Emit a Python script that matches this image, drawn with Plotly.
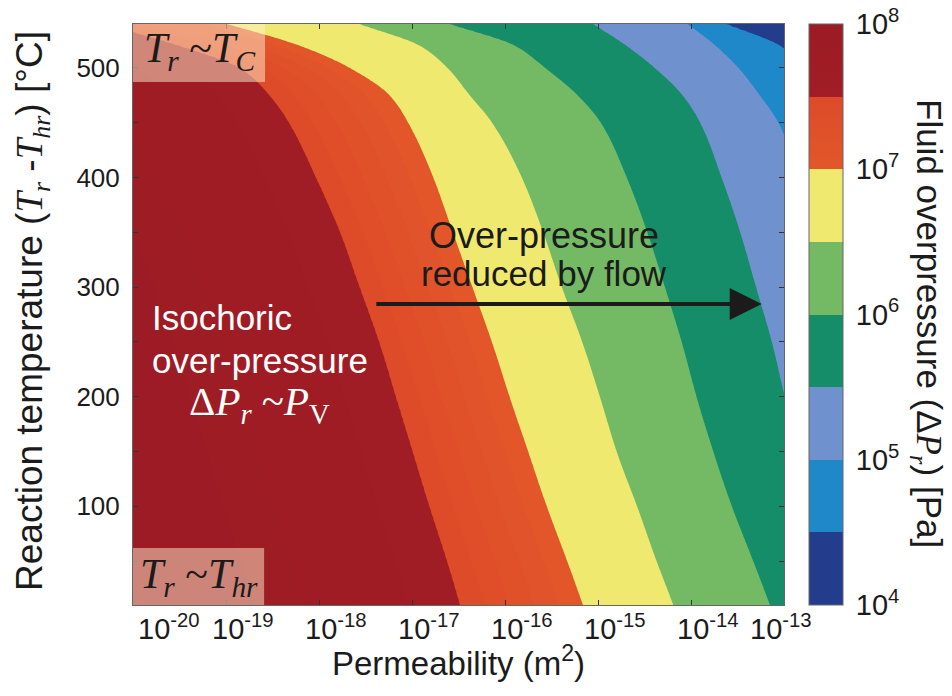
import numpy as np
import plotly.graph_objects as go

# Reaction temperature rows (°C) at which the contour positions are tabulated
temps = [540, 520, 500, 475, 450, 400, 350, 300, 250, 200, 150, 100, 50, 10]

# Overpressure contour levels, log10(ΔP / Pa)
levels = [7.5, 7.0, 6.5, 6.0, 5.5, 5.0, 4.5]

# log10 permeability (m^2) of each contour at every temperature row
k_75 = [-20.30, -19.49, -18.85, -18.53, -18.32, -18.03, -17.77, -17.56, -17.35, -17.17, -16.99, -16.81, -16.62, -16.48]
k_70 = [-18.99, -18.20, -17.67, -17.24, -17.04, -16.77, -16.56, -16.35, -16.14, -15.95, -15.75, -15.55, -15.33, -15.16]
k_65 = [-17.56, -16.91, -16.62, -16.38, -16.14, -15.82, -15.59, -15.39, -15.17, -14.98, -14.80, -14.58, -14.37, -14.19]
k_60 = [-16.60, -15.89, -15.57, -15.22, -14.97, -14.69, -14.47, -14.28, -14.10, -13.94, -13.76, -13.56, -13.33, -13.15]
k_55 = [-15.05, -14.69, -14.39, -14.09, -13.90, -13.67, -13.47, -13.30, -13.13, -12.99, -12.83, -12.65, -12.45, -12.27]
k_50 = [-14.03, -13.73, -13.49, -13.26, -13.06, -12.83, -12.67, -12.51, -12.34, -12.18, -12.01, -11.83, -11.62, -11.45]
k_45 = [-13.63, -13.04, -12.77, -12.51, -12.29, -12.02, -11.81, -11.62, -11.43, -11.27, -11.09, -10.89, -10.68, -10.52]

x_ticks = [-20, -19, -18, -17, -16, -15, -14, -13]
x_ticktext = ["10<sup>%d</sup>" % v for v in x_ticks]
y_ticks = [100, 200, 300, 400, 500]
cb_ticks = [4, 5, 6, 7, 8]
cb_ticktext = ["10<sup>%d</sup>" % v for v in cb_ticks]


def pchip(xk, yk, xq):
    """Monotone cubic Hermite curve through (xk, yk), xk ascending."""
    xk, yk = np.asarray(xk, float), np.asarray(yk, float)
    h = np.diff(xk)
    d = np.diff(yk) / h
    m = np.zeros_like(yk)
    m[0], m[-1] = d[0], d[-1]
    for i in range(1, len(xk) - 1):
        if d[i - 1] * d[i] > 0:
            w1 = 2 * h[i] + h[i - 1]
            w2 = h[i] + 2 * h[i - 1]
            m[i] = (w1 + w2) / (w1 / d[i - 1] + w2 / d[i])
    idx = np.clip(np.searchsorted(xk, xq) - 1, 0, len(xk) - 2)
    t = (xq - xk[idx]) / h[idx]
    h00 = 2 * t**3 - 3 * t**2 + 1
    h10 = t**3 - 2 * t**2 + t
    h01 = -2 * t**3 + 3 * t**2
    h11 = t**3 - t**2
    return (h00 * yk[idx] + h10 * h[idx] * m[idx]
            + h01 * yk[idx + 1] + h11 * h[idx] * m[idx + 1])


# ---- build the log10(ΔP) field on a (log k, T) grid ----------------------
logk = np.linspace(-20, -13, 281)
T_grid = np.linspace(10, 540, 213)
T_asc = np.array(temps, float)[::-1]
contour_k = np.array([k_75, k_70, k_65, k_60, k_55, k_50, k_45])[:, ::-1]
curves = np.array([pchip(T_asc, row, T_grid) for row in contour_k])

Z = np.empty((len(T_grid), len(logk)))
for j in range(len(T_grid)):
    b = curves[:, j]
    xp = np.concatenate([[b[0] - 2.5], b, [b[-1] + 1.0]])
    fp = np.concatenate([[7.95], levels, [4.02]])
    Z[j] = np.interp(logk, xp, fp)
Z = np.round(Z, 4)

SANS = "Liberation Sans"
SERIF = "Liberation Serif"
INK = "#1b1b1b"

# one colour band per half decade of overpressure (10^4 ... 10^8 Pa)
bands = [
    ("#243C8C", "#243C8C"),
    ("#1E88C9", "#1E88C9"),
    ("#6F92CE", "#6F92CE"),
    ("#168D69", "#168D69"),
    ("#74BA64", "#74BA64"),
    ("#F0E96F", "#F0E96F"),
    ("#E2572A", "#DD4A29"),
    ("#A21D25", "#9C1B24"),
]


def stepped_scale(lo, hi):
    """Band colours laid out over the value range [lo, hi]."""
    norm = lambda v: (v - lo) / (hi - lo)
    scale = [[0.0, bands[0][0]]]
    for i, (c0, c1) in enumerate(bands):
        scale.append([norm(4 + 0.5 * i), c0])
        scale.append([norm(4.5 + 0.5 * i), c1])
    scale.append([1.0, bands[-1][1]])
    return scale


# filled contours every 0.1 decade; plotly spreads a contour colour scale
# over [start - size/2, end + size/2]
c_start, c_end, c_size = 4.0, 8.0, 0.1

fig = go.Figure()
fig.add_trace(go.Contour(
    x=logk, y=T_grid, z=Z,
    autocontour=False,
    contours=dict(start=c_start, end=c_end, size=c_size,
                  coloring="fill", showlines=False),
    line=dict(width=0),
    colorscale=stepped_scale(c_start - c_size / 2, c_end + c_size / 2),
    showscale=False,
    hoverinfo="skip",
))

# colour bar spanning exactly 10^4 ... 10^8 Pa
fig.add_trace(go.Scatter(
    x=[None], y=[None], mode="markers", showlegend=False, hoverinfo="skip",
    marker=dict(
        color=[4], cmin=4, cmax=8, colorscale=stepped_scale(4, 8),
        showscale=True,
        colorbar=dict(
            x=(809 - 133) / 651, xanchor="left", xpad=0,
            y=0.5, yanchor="middle", ypad=0, len=1, lenmode="fraction",
            thickness=34, thicknessmode="pixels",
            outlinewidth=1, outlinecolor="#666666",
            tickmode="array", tickvals=cb_ticks, ticktext=cb_ticktext,
            ticks="outside", ticklen=7, tickcolor="rgba(0,0,0,0)",
            tickfont=dict(family=SANS, size=29, color=INK),
        ),
    ),
))

axis_common = dict(
    showgrid=False, zeroline=False, showline=True, linecolor="#666666",
    linewidth=1, mirror="ticks", ticks="inside", ticklen=5,
    tickcolor="#333333",
)
fig.update_xaxes(range=[-20, -13], tickmode="array", tickvals=x_ticks,
                 showticklabels=False, **axis_common)
fig.update_yaxes(range=[10, 540], tickmode="array", tickvals=y_ticks,
                 ticklabelstandoff=7,
                 tickfont=dict(family=SANS, size=26, color=INK),
                 minor=dict(dtick=50, tick0=0, ticks="inside", ticklen=5,
                            tickcolor="#333333"),
                 **axis_common)

T_ = lambda s: '<span style="font-family:%s"><i>%s</i></span>' % (SERIF, s)
Tsub = lambda s: '<span style="font-family:%s"><sub><i>%s</i></sub></span>' % (SERIF, s)

annotations = []

# permeability tick labels: the "10" sits on the tick, kept inside the frame
px_per_decade = 651 / 7
label_w = 63
for v, txt in zip(x_ticks, x_ticktext):
    tick_px = 133 + (v + 20) * px_per_decade
    centre = min(max(tick_px + 17, 137 + label_w / 2), 812 - label_w / 2)
    annotations.append(dict(
        text=txt, xref="x", yref="paper", x=v, y=(605 - 627) / 581,
        xanchor="center", yanchor="middle", xshift=centre - tick_px,
        showarrow=False, font=dict(family=SANS, size=29, color=INK)))

annotations += [
    dict(text="Permeability (m<sup>2</sup>)", xref="paper", yref="paper",
         x=0.5, y=(605 - 661) / 581, xanchor="center", yanchor="middle",
         showarrow=False, font=dict(family=SANS, size=33, color=INK)),
    dict(text="Reaction temperature (" + T_("T") + Tsub("r") + " -" + T_("T")
         + Tsub("hr") + ") [°C]",
         xref="paper", yref="paper", x=(32 - 133) / 651, y=(605 - 311) / 581,
         xanchor="center", yanchor="middle",
         textangle=-90, showarrow=False,
         font=dict(family=SANS, size=37, color=INK)),
    dict(text="Fluid overpressure (Δ" + T_("P") + Tsub("r") + ") [Pa]",
         xref="paper", yref="paper", x=(927 - 133) / 651, y=(605 - 324) / 581,
         xanchor="center", yanchor="middle",
         textangle=90, showarrow=False,
         font=dict(family=SANS, size=35, color=INK)),
    dict(text="<i>T</i><sub><i>r</i></sub> ~<i>T</i><sub><i>C</i></sub>",
         xref="x", yref="y", x=-19.29, y=515, showarrow=False,
         font=dict(family=SERIF, size=42, color=INK)),
    dict(text="<i>T</i><sub><i>r</i></sub> ~<i>T</i><sub><i>hr</i></sub>",
         xref="x", yref="y", x=-19.29, y=36, showarrow=False,
         font=dict(family=SERIF, size=42, color=INK)),
    dict(text="Isochoric", xref="x", yref="y", x=-19.82, y=272,
         xanchor="left", yanchor="middle", showarrow=False,
         font=dict(family=SANS, size=35, color="white")),
    dict(text="over-pressure", xref="x", yref="y", x=-19.82, y=233,
         xanchor="left", yanchor="middle", showarrow=False,
         font=dict(family=SANS, size=35, color="white")),
    dict(text="Δ<i>P</i><sub><i>r</i></sub> ~<i>P</i><sub>V</sub>",
         xref="x", yref="y", x=-19.42, y=193, xanchor="left",
         yanchor="middle", showarrow=False,
         font=dict(family=SERIF, size=41, color="white")),
    dict(text="Over-pressure", xref="x", yref="y", x=-15.58, y=347,
         xanchor="center", yanchor="middle",
         showarrow=False, font=dict(family=SANS, size=36, color=INK)),
    dict(text="reduced by flow", xref="x", yref="y", x=-15.58, y=312,
         xanchor="center", yanchor="middle",
         showarrow=False, font=dict(family=SANS, size=35, color=INK)),
    dict(text="", xref="x", yref="y", x=-13.24, y=284.6,
         axref="x", ayref="y", ax=-17.40, ay=284.6, showarrow=True,
         arrowhead=2, arrowsize=1.6, arrowwidth=4, arrowcolor=INK),
]

shapes = [
    dict(type="rect", xref="x", yref="y", x0=-20, x1=-18.58, y0=487, y1=540,
         fillcolor="rgba(255,240,205,0.5)", line=dict(width=0), layer="above"),
    dict(type="rect", xref="x", yref="y", x0=-20, x1=-18.59, y0=10, y1=62,
         fillcolor="rgba(255,240,205,0.5)", line=dict(width=0), layer="above"),
]

# short dark marks on both edges of the colour bar at every band boundary
cb_left = (809 - 133) / 651
cb_right = (843 - 133) / 651
mark = 5 / 651
for v in np.arange(4.5, 8.0, 0.5):
    yv = (v - 4) / 4
    for xa, xb in ((cb_left, cb_left + mark), (cb_right - mark, cb_right)):
        shapes.append(dict(type="line", xref="paper", yref="paper",
                           x0=xa, x1=xb, y0=yv, y1=yv,
                           line=dict(color="#333333", width=1)))

fig.update_layout(
    width=952, height=696,
    margin=dict(l=133, r=168, t=24, b=91),
    paper_bgcolor="white", plot_bgcolor="white",
    annotations=annotations, shapes=shapes,
    font=dict(family=SANS, color=INK),
)

fig.write_html("out.html")
